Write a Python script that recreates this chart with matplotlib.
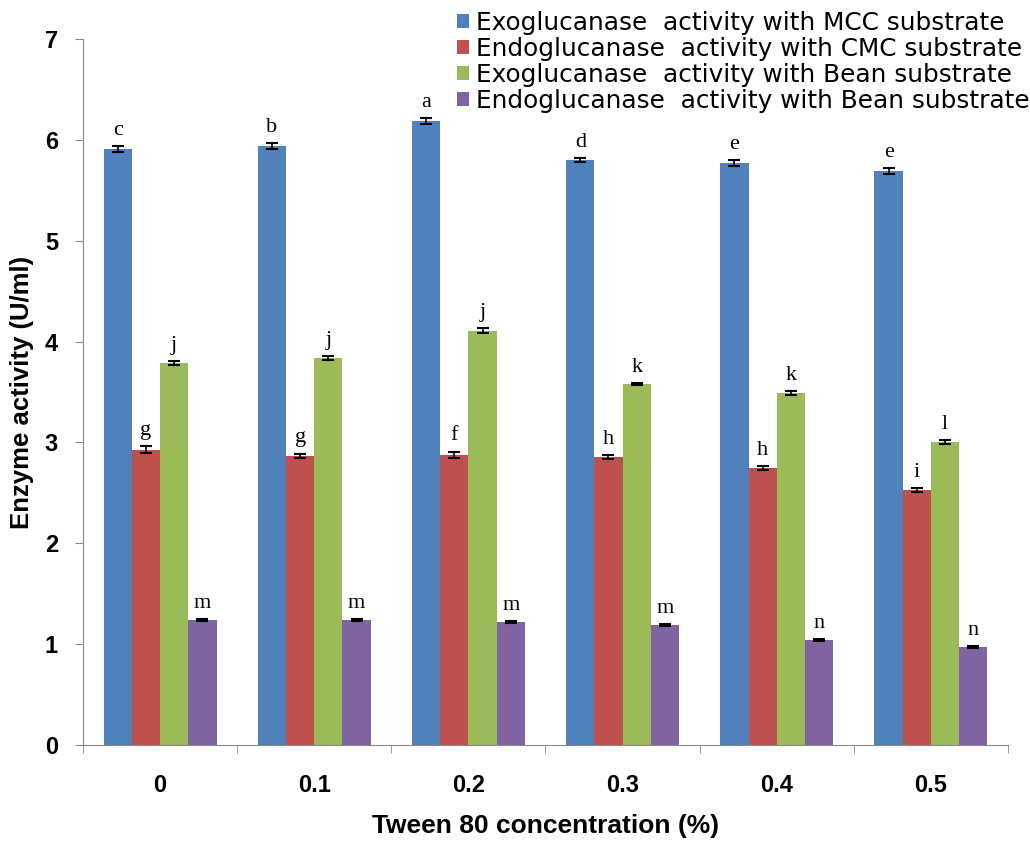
import numpy as np
import matplotlib.pyplot as plt

# Tween 80 concentration (%) groups
conc = ['0', '0.1', '0.2', '0.3', '0.4', '0.5']

series_names = ['Exoglucanase  activity with MCC substrate',
                'Endoglucanase  activity with CMC substrate',
                'Exoglucanase  activity with Bean substrate',
                'Endoglucanase  activity with Bean substrate']

exo_mcc = [5.91, 5.94, 6.19, 5.80, 5.77, 5.69]
endo_cmc = [2.93, 2.87, 2.88, 2.86, 2.75, 2.53]
exo_bean = [3.79, 3.84, 4.11, 3.58, 3.49, 3.00]
endo_bean = [1.24, 1.24, 1.22, 1.19, 1.04, 0.97]

err_exo_mcc = [0.03, 0.03, 0.03, 0.02, 0.03, 0.03]
err_endo_cmc = [0.03, 0.02, 0.03, 0.02, 0.02, 0.02]
err_exo_bean = [0.02, 0.02, 0.02, 0.01, 0.02, 0.02]
err_endo_bean = [0.01, 0.01, 0.01, 0.01, 0.01, 0.01]

let_exo_mcc = ['c', 'b', 'a', 'd', 'e', 'e']
let_endo_cmc = ['g', 'g', 'f', 'h', 'h', 'i']
let_exo_bean = ['j', 'j', 'j', 'k', 'k', 'l']
let_endo_bean = ['m', 'm', 'm', 'm', 'n', 'n']

colors = ['#4F81BD', '#C0504D', '#9BBB59', '#8064A2']

values = [exo_mcc, endo_cmc, exo_bean, endo_bean]
errors = [err_exo_mcc, err_endo_cmc, err_exo_bean, err_endo_bean]
letters = [let_exo_mcc, let_endo_cmc, let_exo_bean, let_endo_bean]

fig = plt.figure(figsize=(10.30, 8.49), dpi=100)
ax = fig.add_axes([0.0806, 0.1225, 0.898, 0.8315])

x = np.arange(len(conc))
w = 0.183
for i in range(4):
    pos = x + (i - 1.5) * w
    ax.bar(pos, values[i], w, color=colors[i], label=series_names[i],
           yerr=errors[i], capsize=4,
           error_kw=dict(ecolor='black', elinewidth=1.2, capthick=1.5))
    for p, v, e, t in zip(pos, values[i], errors[i], letters[i]):
        ax.text(p, v + e + 0.06, t, ha='center', va='bottom',
                fontsize=16, family='Liberation Serif')

ax.set_xlim(-0.5, len(conc) - 0.5)
ax.set_ylim(0, 7)
ax.set_yticks(range(8))
ax.set_xticks(x)
ax.set_xticklabels(conc)
ax.set_xticks(np.arange(-0.5, len(conc)), minor=True)
ax.tick_params(axis='x', which='major', length=0, pad=21)
ax.tick_params(axis='x', which='minor', length=6, color='#888888')
ax.tick_params(axis='y', length=6, color='#888888', pad=12)
for lab in ax.get_xticklabels() + ax.get_yticklabels():
    lab.set_fontsize(17)
    lab.set_fontweight('bold')
    lab.set_family('Liberation Sans')

for s in ['top', 'right']:
    ax.spines[s].set_visible(False)
for s in ['left', 'bottom']:
    ax.spines[s].set_color('#888888')

ax.set_ylabel('Enzyme activity (U/ml)', fontsize=18.5, fontweight='bold',
              family='Liberation Sans', labelpad=8)
ax.set_xlabel('Tween 80 concentration (%)', fontsize=19, fontweight='bold',
              family='Liberation Sans', labelpad=12)

leg = ax.legend(loc='upper left', bbox_to_anchor=(457 / 1030, 1 - 11 / 849),
                bbox_transform=fig.transFigure, frameon=False,
                borderaxespad=0, borderpad=0,
                prop={'family': 'DejaVu Sans', 'size': 17.8},
                handlelength=0.5, handleheight=0.5, handletextpad=0.25,
                labelspacing=0.08)

fig.savefig('out.png', dpi=100)
